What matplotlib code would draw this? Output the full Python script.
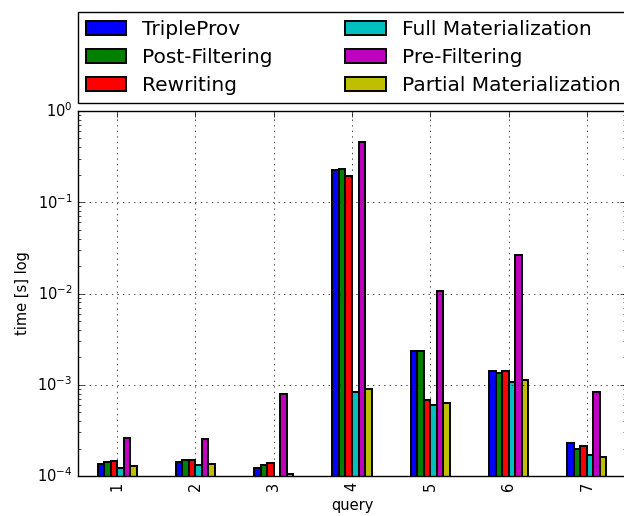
import matplotlib
matplotlib.use("Agg")
import matplotlib.pyplot as plt
import numpy as np

plt.style.use("classic")

queries = ["1", "2", "3", "4", "5", "6", "7"]
series_names = ["TripleProv", "Post-Filtering", "Rewriting",
                "Full Materialization", "Pre-Filtering", "Partial Materialization"]
tripleprov = [1.37e-4, 1.43e-4, 1.21e-4, 0.224, 2.37e-3, 1.43e-3, 2.31e-4]
post_filtering = [1.41e-4, 1.48e-4, 1.33e-4, 0.229, 2.33e-3, 1.35e-3, 1.99e-4]
rewriting = [1.47e-4, 1.51e-4, 1.39e-4, 0.196, 6.86e-4, 1.41e-3, 2.14e-4]
full_mat = [1.21e-4, 1.31e-4, np.nan, 8.24e-4, 6.03e-4, 1.07e-3, 1.69e-4]
pre_filtering = [2.62e-4, 2.53e-4, 7.84e-4, 0.458, 1.07e-2, 2.66e-2, 8.39e-4]
partial_mat = [1.28e-4, 1.37e-4, 1.06e-4, 8.95e-4, 6.36e-4, 1.12e-3, 1.60e-4]
colors = ["b", "g", "r", "c", "m", "y"]

data = [tripleprov, post_filtering, rewriting, full_mat, pre_filtering, partial_mat]

W, H = 624, 516
fig = plt.figure(figsize=(W / 100, H / 100), dpi=100)
ax = fig.add_axes([78 / W, 1 - 476 / H, (626 - 78) / W, (476 - 111) / H])

x = np.arange(len(queries))
n = len(data)
group_w = 0.5
bw = group_w / n
for i, (vals, c, name) in enumerate(zip(data, colors, series_names)):
    pos = x - group_w / 2 + bw * (i + 0.5)
    ax.bar(pos, vals, width=bw, color=c, edgecolor="k", linewidth=1.4, label=name, log=True)

ax.set_yscale("log")
ax.set_ylim(1e-4, 1e0)
ax.set_xlim(-0.5, len(queries) - 0.5)
ax.set_xticks(x)
ax.set_xticklabels(queries, rotation=90)
ax.tick_params(labelsize=10.5)
ax.grid(True, which="major")
ax.set_xlabel("query", fontsize=10.5)
ax.set_ylabel("time [s] log", fontsize=10.5)

ax.legend(loc="lower left", bbox_to_anchor=(0.0, 1.021), borderaxespad=0.0,
          ncol=2, fontsize=14.5, columnspacing=3.6, labelspacing=0.45,
          handlelength=2.0, handletextpad=0.8, borderpad=0.4,
          fancybox=False, frameon=True)

fig.savefig("out.png", dpi=100)
